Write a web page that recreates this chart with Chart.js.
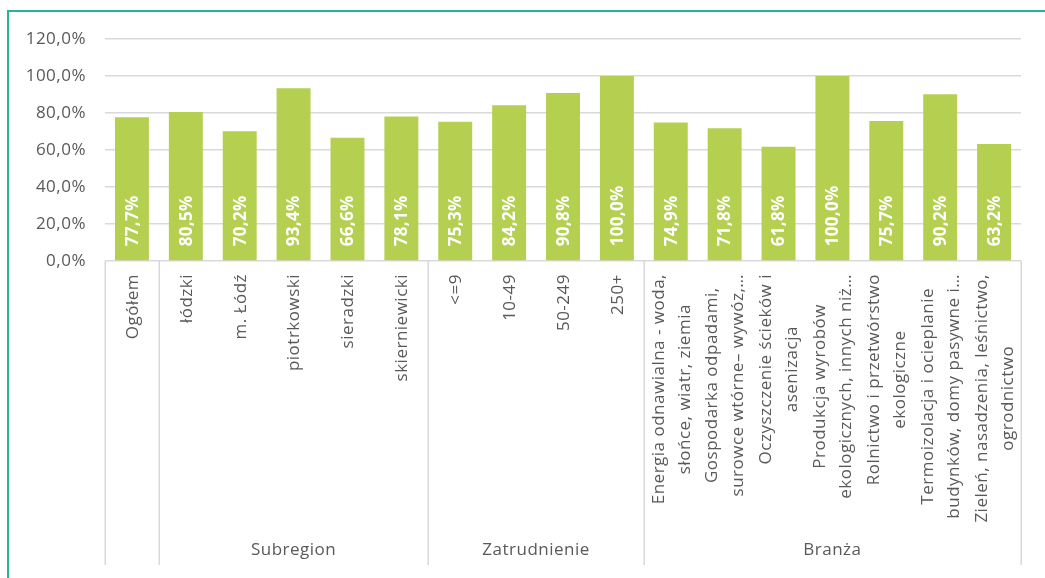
<!DOCTYPE html>
<html>
<head>
<meta charset="utf-8">
<script src="https://cdn.jsdelivr.net/npm/chart.js@4.4.1/dist/chart.umd.min.js"></script>
<style>
html,body{margin:0;padding:0;background:#fff;}
#c{display:block;}
</style>
</head>
<body>
<canvas id="c" width="1045" height="578"></canvas>
<script>
const categories = [
  ["Ogółem"],
  ["łódzki"],
  ["m. Łódź"],
  ["piotrkowski"],
  ["sieradzki"],
  ["skierniewicki"],
  ["<=9"],
  ["10-49"],
  ["50-249"],
  ["250+"],
  ["Energia odnawialna - woda,", "słońce, wiatr, ziemia"],
  ["Gospodarka odpadami,", "surowce wtórne– wywóz,…"],
  ["Oczyszczenie ścieków i", "asenizacja"],
  ["Produkcja wyrobów", "ekologicznych, innych niż…"],
  ["Rolnictwo i przetwórstwo", "ekologiczne"],
  ["Termoizolacja i ocieplanie", "budynków, domy pasywne i…"],
  ["Zieleń, nasadzenia, leśnictwo,", "ogrodnictwo"]
];
const values = [77.7, 80.5, 70.2, 93.4, 66.6, 78.1, 75.3, 84.2, 90.8, 100.0, 74.9, 71.8, 61.8, 100.0, 75.7, 90.2, 63.2];
const groupNames = ["", "Subregion", "Zatrudnienie", "Branża"];
const groupSizes = [1, 5, 4, 7];
const yTicks = [0, 20, 40, 60, 80, 100, 120];

const FONT = "'Open Sans', 'DejaVu Sans', sans-serif";
const fmt = v => v.toFixed(1).replace('.', ',') + '%';

const decorPlugin = {
  id: 'decor',
  beforeDraw(chart) {
    chart.ctx.letterSpacing = '0.5px';
  },
  afterDatasetsDraw(chart) {
    const ctx = chart.ctx;
    const meta = chart.getDatasetMeta(0);
    ctx.save();
    ctx.letterSpacing = '0.3px';
    ctx.fillStyle = '#ffffff';
    ctx.font = "bold 17px " + FONT;
    ctx.textAlign = 'left';
    ctx.textBaseline = 'middle';
    meta.data.forEach((bar, i) => {
      ctx.save();
      ctx.translate(bar.x + 1, bar.base - 14);
      ctx.rotate(-Math.PI / 2);
      ctx.fillText(fmt(values[i]), 0, 0);
      ctx.restore();
    });
    ctx.restore();
  },
  afterDraw(chart) {
    const ctx = chart.ctx;
    const xs = chart.scales.x;
    const area = chart.chartArea;
    ctx.save();
    ctx.letterSpacing = '0.5px';
    // category labels
    ctx.fillStyle = '#595959';
    ctx.font = "17px " + FONT;
    ctx.textAlign = 'center';
    ctx.textBaseline = 'middle';
    const lh = 26;
    categories.forEach((lines, i) => {
      const x = xs.getPixelForValue(i);
      let maxW = 0;
      lines.forEach(l => { maxW = Math.max(maxW, ctx.measureText(l).width); });
      ctx.save();
      ctx.translate(x, area.bottom + 13);
      ctx.rotate(-Math.PI / 2);
      lines.forEach((l, j) => {
        ctx.fillText(l, -maxW / 2, (j - (lines.length - 1) / 2) * lh + 1);
      });
      ctx.restore();
    });
    // group separators
    ctx.strokeStyle = '#d9d9d9';
    ctx.lineWidth = 1.5;
    let b = 0;
    const bounds = [0];
    groupSizes.forEach(s => { b += s; bounds.push(b); });
    bounds.forEach(k => {
      const x = Math.round(xs.getPixelForValue(k - 0.5)) + 0.25;
      ctx.beginPath();
      ctx.moveTo(x, area.bottom);
      ctx.lineTo(x, 565);
      ctx.stroke();
    });
    // group labels
    ctx.font = "17px " + FONT;
    groupNames.forEach((g, gi) => {
      if (!g) return;
      const x0 = xs.getPixelForValue(bounds[gi] - 0.5);
      const x1 = xs.getPixelForValue(bounds[gi + 1] - 0.5);
      ctx.fillText(g, (x0 + x1) / 2, 550);
    });
    // teal frame
    ctx.strokeStyle = '#27b29b';
    ctx.lineWidth = 2;
    ctx.beginPath();
    ctx.moveTo(8, 578);
    ctx.lineTo(8, 11);
    ctx.lineTo(1045, 11);
    ctx.stroke();
    ctx.restore();
  }
};

new Chart(document.getElementById('c'), {
  type: 'bar',
  data: {
    labels: categories.map(l => l.join(' ')),
    datasets: [{
      data: values,
      backgroundColor: '#b5cf51',
      barPercentage: 0.63,
      categoryPercentage: 1.0
    }]
  },
  options: {
    responsive: false,
    animation: false,
    layout: { padding: { left: 0, top: 39, right: 24, bottom: 0 } },
    plugins: { legend: { display: false }, tooltip: { enabled: false } },
    scales: {
      x: {
        ticks: { display: false },
        grid: { display: false },
        border: { display: false },
        afterFit(s) { s.height = 317; }
      },
      y: {
        min: 0,
        max: 120,
        afterBuildTicks(s) { s.ticks = yTicks.map(v => ({ value: v })); },
        ticks: {
          color: '#595959',
          font: { family: FONT, size: 17 },
          padding: 19,
          callback: v => fmt(v)
        },
        grid: { color: '#d9d9d9', lineWidth: 1.5, drawTicks: false },
        border: { display: false },
        afterFit(s) { s.width = 105; }
      }
    }
  },
  plugins: [decorPlugin]
});
</script>
</body>
</html>
